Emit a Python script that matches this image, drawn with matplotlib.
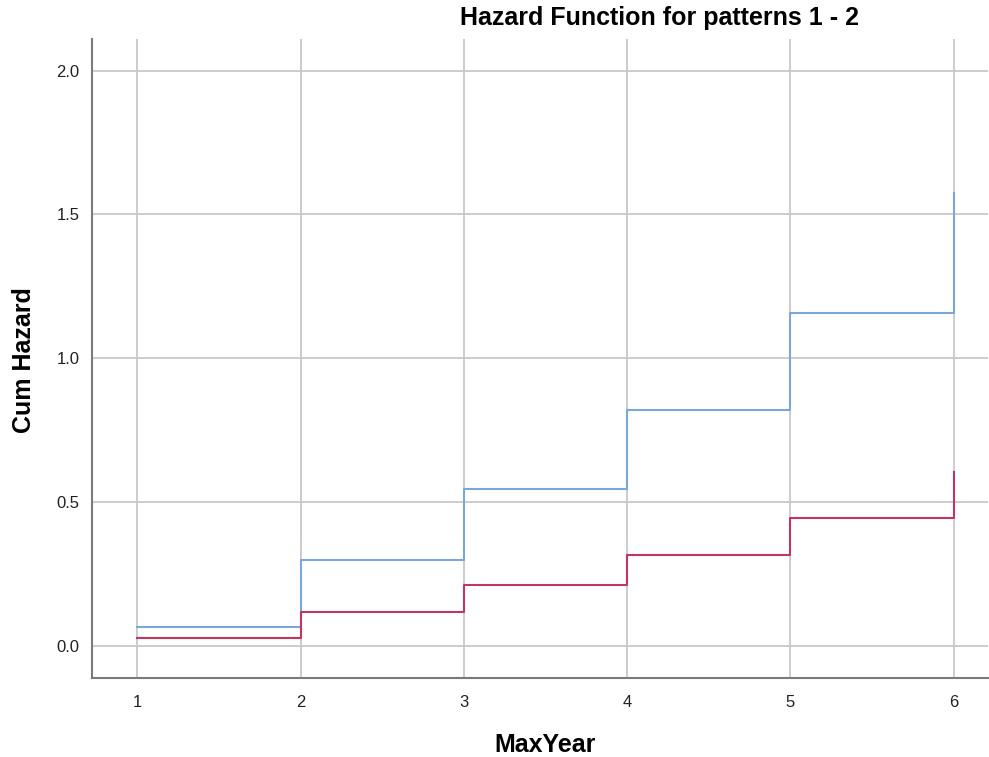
"""Cumulative hazard step curves for patterns 1 and 2."""

import matplotlib
matplotlib.use("Agg")
import matplotlib.pyplot as plt

# cumulative hazard at each MaxYear value
max_year = [1, 2, 3, 4, 5, 6]
hazard_pattern_1 = [0.066, 0.297, 0.544, 0.819, 1.157, 1.573]
hazard_pattern_2 = [0.027, 0.116, 0.211, 0.314, 0.446, 0.605]

x_ticks = [1, 2, 3, 4, 5, 6]
y_ticks = [0.0, 0.5, 1.0, 1.5, 2.0]

plt.rcParams["font.family"] = ["Liberation Sans", "DejaVu Sans"]

fig = plt.figure(figsize=(9.89, 7.57), dpi=100)
ax = fig.add_axes([0.093, 0.1044, 0.906, 0.8441])

ax.step(max_year, hazard_pattern_1, where="post", color="#7aa6da", lw=1.5, zorder=3)
ax.step(max_year, hazard_pattern_2, where="post", color="#c0365f", lw=1.5, zorder=3)

ax.set_xlim(0.723, 6.21)
ax.set_ylim(-0.112, 2.110)
ax.set_xticks(x_ticks)
ax.set_yticks(y_ticks)
ax.set_yticklabels([f"{v:.1f}" for v in y_ticks])
ax.tick_params(length=0, labelsize=12, colors="#222222")
ax.tick_params(axis="x", pad=12)
ax.tick_params(axis="y", pad=9)

ax.grid(True, color="#c8c8c8", lw=1.3, zorder=0)
ax.set_axisbelow(True)

for side in ("top", "right"):
    ax.spines[side].set_visible(False)
for side in ("left", "bottom"):
    ax.spines[side].set_color("#7a7a7a")
    ax.spines[side].set_linewidth(1.5)

fig.text(660 / 989, 1 - 18 / 757, "Hazard Function for patterns 1 - 2",
         ha="center", va="center", fontsize=18, fontweight="bold")
fig.text(24 / 989, 1 - 360 / 757, "Cum Hazard", rotation=90,
         ha="center", va="center", fontsize=18, fontweight="bold")
fig.text(545 / 989, 1 - 745 / 757, "MaxYear",
         ha="center", va="center", fontsize=18, fontweight="bold")

fig.savefig("out.png", dpi=100)
plt.close(fig)
